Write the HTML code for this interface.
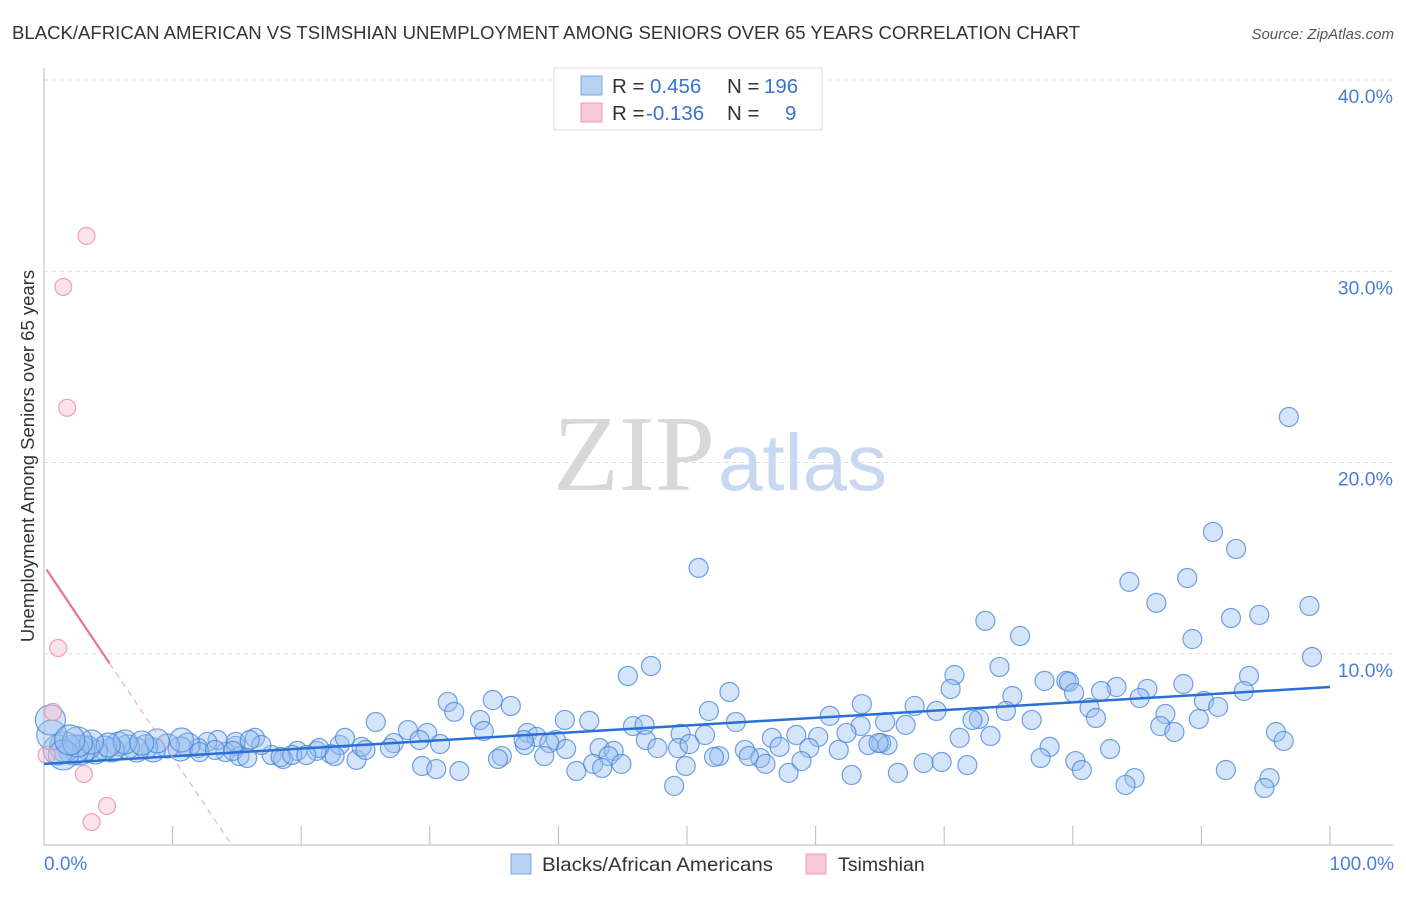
<!DOCTYPE html>
<html><head><meta charset="utf-8"><style>
body{margin:0;background:#fff;width:1406px;height:892px;overflow:hidden;font-family:"Liberation Sans",sans-serif}
</style></head><body>
<svg id="chart" width="1406" height="892" xmlns="http://www.w3.org/2000/svg" font-family="Liberation Sans, sans-serif">
<text x="12" y="39" font-size="18.5" fill="#333" textLength="1068" lengthAdjust="spacingAndGlyphs">BLACK/AFRICAN AMERICAN VS TSIMSHIAN UNEMPLOYMENT AMONG SENIORS OVER 65 YEARS CORRELATION CHART</text>
<text x="1394" y="39" font-size="15" fill="#555" font-style="italic" text-anchor="end">Source: ZipAtlas.com</text>
<g>
<text x="553" y="490" font-size="108" font-family="Liberation Serif, serif" fill="#d8d8d8">ZIP</text>
<text x="718" y="490" font-size="80" fill="#c8d8f0">atlas</text>
</g>
<g id="grid"></g>
<g id="axes"></g>
<g id="blue"></g>
<g id="pink"></g>
<g id="lines"></g>
<text transform="translate(34,456) rotate(-90)" font-size="18.5" fill="#333" text-anchor="middle">Unemployment Among Seniors over 65 years</text>
<text x="44" y="870" font-size="19" fill="#4a7fd6">0.0%</text>
<text x="1394" y="870" font-size="19" fill="#4a7fd6" text-anchor="end">100.0%</text>
<g>
<rect x="554" y="68" width="268" height="62" fill="#fff" stroke="#ddd"/>
<rect x="581" y="76" width="21" height="19" fill="#b8d2f4" stroke="#7aa6e6"/>
<rect x="581" y="103" width="21" height="19" fill="#f8c8d6" stroke="#ee9ab4"/>
<text x="612" y="93" font-size="20.5" fill="#333">R = </text><text x="650" y="93" font-size="20.5" fill="#3a72d0">0.456</text>
<text x="727" y="93" font-size="20.5" fill="#333">N = </text><text x="764" y="93" font-size="20.5" fill="#3a72d0">196</text>
<text x="612" y="120" font-size="20.5" fill="#333">R = </text><text x="646" y="120" font-size="20.5" fill="#3a72d0">-0.136</text>
<text x="727" y="120" font-size="20.5" fill="#333">N = </text><text x="785" y="120" font-size="20.5" fill="#3a72d0">9</text>
</g>
<g>
<rect x="511" y="854" width="20" height="20" fill="#b8d2f4" stroke="#7aa6e6"/>
<text x="542" y="871" font-size="19.5" fill="#333" textLength="231" lengthAdjust="spacingAndGlyphs">Blacks/African Americans</text>
<rect x="806" y="854" width="20" height="20" fill="#f8c8d6" stroke="#ee9ab4"/>
<text x="838" y="871" font-size="19.5" fill="#333">Tsimshian</text>
</g>
</svg>
<script>
const yTicks=[10,20,30,40];
const yTickLabels=["10.0%","20.0%","30.0%","40.0%"];
const xTicks=[10,20,30,40,50,60,70,80,90,100];
const blueX=[50.9,96.8,90.9,92.7,88.9,84.4,86.5,98.4,73.2,92.3,94.5,75.9,89.3,47.2,45.4,98.6,74.3,70.8,93.7,53.3,70.5,88.6,77.8,79.5,79.7,83.4,85.8,82.2,75.3,80.1,31.4,34.9,36.3,90.2,91.3,93.3,63.6,81.3,51.7,67.7,69.4,85.2,74.8,87.2,31.9,72.7,89.8,76.8,81.8,40.5,42.4,61.1,25.8,33.9,45.8,53.8,67.0,65.4,72.2,86.8,87.9,63.5,34.2,28.3,29.8,37.6,38.3,46.8,49.5,46.7,58.5,62.4,65.1,71.2,73.6,56.6,60.2,64.1,65.6,39.8,39.3,30.8,27.2,29.2,43.2,44.3,47.7,49.3,37.4,35.6,35.3,38.9,40.6,43.9,52.5,54.5,55.7,57.2,59.5,61.8,64.9,78.2,82.9,95.8,96.4,24.3,24.7,22.3,29.4,30.5,32.3,41.4,42.7,44.9,43.4,49.9,52.1,54.8,56.1,57.9,58.9,62.8,66.4,68.4,69.8,71.8,77.5,80.2,80.7,84.8,84.1,91.9,95.3,94.9,49.0,21.2,19.7,17.7,18.6,16.4,16.9,14.9,14.1,13.5,12.7,12.0,11.2,10.6,9.6,8.5,7.9,7.2,6.5,5.8,5.3,4.7,4.0,3.4,2.8,2.3,1.6,1.1,0.6,0.5,1.5,21.4,23.0,23.4,25.0,26.9,12.1,13.3,15.2,18.4,19.3,20.4,8.8,6.3,5.0,7.6,3.7,2.6,2.0,10.7,14.9,16.0,14.7,15.8,22.6,37.3,50.2,51.4];
const blueY=[14.49,22.38,16.37,15.48,13.96,13.76,12.66,12.50,11.72,11.87,12.03,10.93,10.77,9.36,8.84,9.83,9.31,8.89,8.84,8.00,8.16,8.42,8.58,8.58,8.53,8.26,8.16,8.05,7.79,7.95,7.48,7.58,7.27,7.53,7.22,8.05,7.37,7.17,7.01,7.27,7.01,7.69,7.01,6.85,6.96,6.59,6.59,6.54,6.64,6.54,6.49,6.75,6.43,6.54,6.22,6.43,6.28,6.43,6.54,6.22,5.91,6.22,5.96,6.01,5.86,5.86,5.65,5.49,5.81,6.28,5.75,5.86,5.33,5.60,5.70,5.60,5.65,5.23,5.23,5.49,5.33,5.28,5.33,5.49,5.07,4.92,5.07,5.07,5.23,4.65,4.50,4.65,5.02,4.65,4.65,4.97,4.55,5.13,5.07,4.97,5.33,5.13,5.02,5.91,5.44,4.45,5.13,4.76,4.13,3.97,3.87,3.87,4.24,4.24,4.03,4.13,4.60,4.65,4.24,3.77,4.39,3.66,3.77,4.29,4.34,4.18,4.55,4.39,3.92,3.50,3.14,3.92,3.50,2.98,3.09,4.92,4.92,4.71,4.50,5.60,5.23,5.18,4.86,5.49,5.39,5.07,5.23,5.02,5.18,4.97,5.13,4.97,5.13,5.28,4.97,5.07,4.86,5.07,4.97,4.97,5.13,4.97,5.75,6.54,4.71,5.07,5.23,5.60,4.97,5.07,4.86,4.97,4.65,4.60,4.71,4.71,5.44,5.39,5.23,5.33,5.39,5.39,5.49,5.49,5.39,5.49,4.92,4.55,4.65,5.49,5.28,5.75,6.01];
const pinkX=[3.3,1.5,1.8,1.1,0.7,3.1,4.9,3.7,0.2];
const pinkY=[31.85,29.18,22.86,10.30,6.96,3.71,2.04,1.20,4.71];
const blueTrend=[4.24,8.26];
const pinkTrend=[14.6,-1.0];
const NS="http://www.w3.org/2000/svg";
const X0=44,X1=1330,Y0=845,Y40=80;
const sx=v=>X0+(X1-X0)*v/100;
const sy=v=>Y0-(Y0-Y40)*v/40;
function mk(tag,attrs,parent){const e=document.createElementNS(NS,tag);for(const k in attrs)e.setAttribute(k,attrs[k]);document.getElementById(parent).appendChild(e);return e;}
yTicks.forEach((t,i)=>{
 const g=mk('line',{x1:X0,x2:1393,y1:sy(t),y2:sy(t),stroke:'#ddd','stroke-dasharray':'4,4'},'grid');
 
 
 const l=mk('text',{x:1393,y:sy(t)+23,'font-size':19.5,fill:'#4a7fd6','text-anchor':'end'},'grid');
 l.textContent=yTickLabels[i];
 
 
});
const ax=mk('line',{x1:X0,x2:X0,y1:68,y2:Y0,stroke:'#bbb'},'axes');


const bx=mk('line',{x1:X0,x2:1393,y1:Y0,y2:Y0,stroke:'#bbb'},'axes');


xTicks.forEach(t=>{
 const tk=mk('line',{x1:sx(t),x2:sx(t),y1:826,y2:Y0,stroke:'#bbb'},'axes');
 
 
});
blueX.forEach((x,i)=>{
 const r=x<3?15:(x<12?12:9.5);
 const c=mk('circle',{cx:sx(x),cy:sy(blueY[i]),r:r,fill:'rgba(150,190,240,0.4)',stroke:'rgba(70,130,215,0.75)','stroke-width':1.2},'blue');
 
 
});
pinkX.forEach((x,i)=>{
 const c=mk('circle',{cx:sx(x),cy:sy(pinkY[i]),r:8.5,fill:'rgba(248,190,208,0.45)',stroke:'rgba(235,140,170,0.8)','stroke-width':1.2},'pink');
 
 
});
const bl=mk('line',{x1:sx(0),y1:sy(blueTrend[0]),x2:sx(100),y2:sy(blueTrend[1]),stroke:'#2a6fd6','stroke-width':2.5},'lines');


const pf=x=>pinkTrend[0]+pinkTrend[1]*x;
const xz=-pinkTrend[0]/pinkTrend[1];
const pl=mk('line',{x1:sx(0.2),y1:sy(pf(0.2)),x2:sx(5.1),y2:sy(pf(5.1)),stroke:'#e8709a','stroke-width':2.2},'lines');


const pd=mk('line',{x1:sx(5.1),y1:sy(pf(5.1)),x2:sx(xz),y2:sy(0),stroke:'#e8a0b8','stroke-width':1,'stroke-dasharray':'6,5'},'lines');


</script>
</body></html>
